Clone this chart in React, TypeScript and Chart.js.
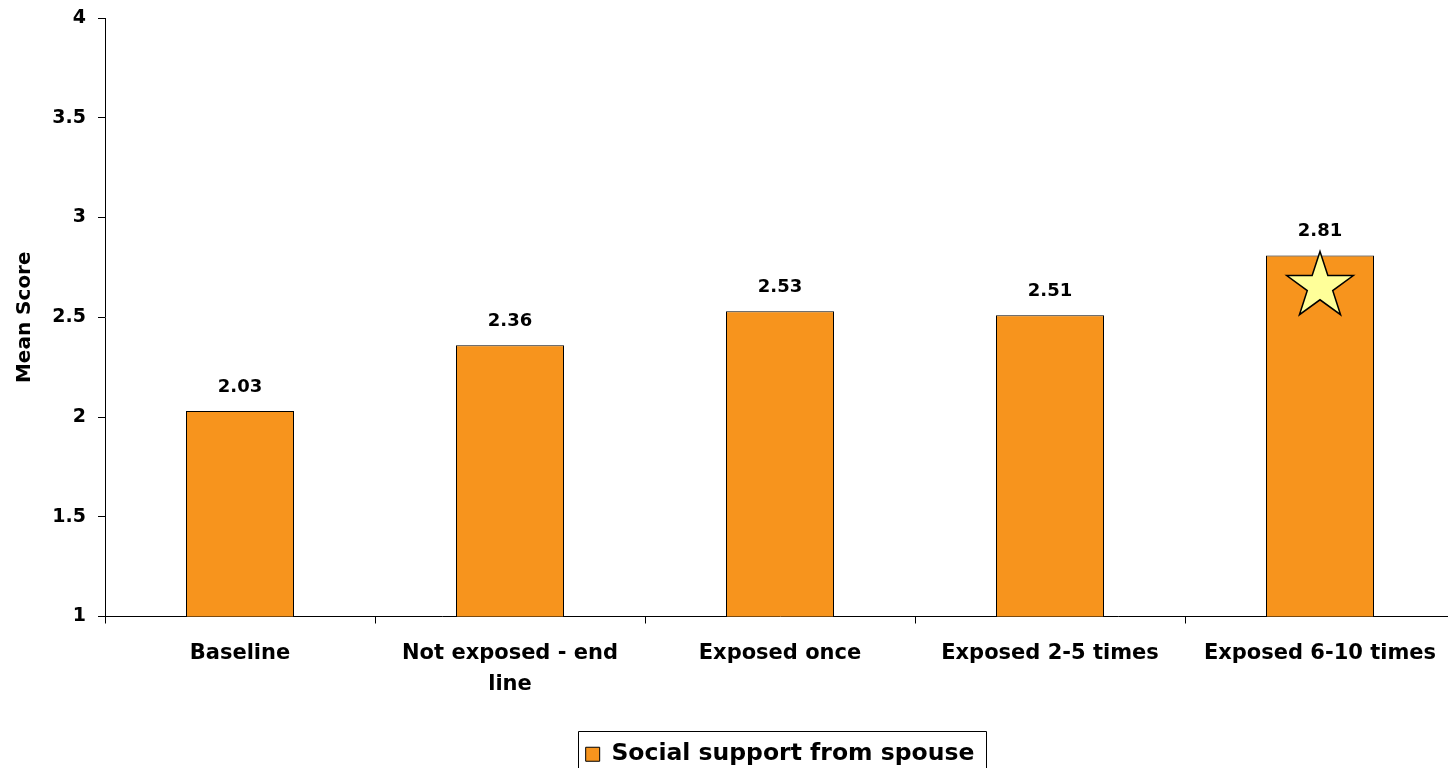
import React, { useEffect, useRef } from 'react';
import { Chart, registerables } from 'chart.js';

Chart.register(...registerables);

const categories: (string | string[])[] = [
  'Baseline',
  ['Not exposed - end', 'line'],
  'Exposed once',
  'Exposed 2-5 times',
  'Exposed 6-10 times',
];
const seriesName = 'Social support from spouse';
const values = [2.03, 2.36, 2.53, 2.51, 2.81];
const yMin = 1;
const yMax = 4;
const yStep = 0.5;
const yTitle = 'Mean Score';
const starredIndex = 4;

const FONT = '"DejaVu Sans", "Liberation Sans", Arial, sans-serif';
const BAR_COLOR = '#F7941D';

const valueLabelPlugin = {
  id: 'valueLabels',
  afterDatasetsDraw(chart: any) {
    const ctx = chart.ctx;
    const meta = chart.getDatasetMeta(0);
    ctx.save();
    ctx.font = `bold 18px ${FONT}`;
    ctx.fillStyle = '#000';
    ctx.textAlign = 'center';
    ctx.textBaseline = 'alphabetic';
    meta.data.forEach((el: any, i: number) => {
      ctx.fillText(values[i].toFixed(2), el.x, el.y - 19);
    });
    ctx.restore();
  },
};

const starPlugin = {
  id: 'starMark',
  afterDatasetsDraw(chart: any) {
    const meta = chart.getDatasetMeta(0);
    const el: any = meta.data[starredIndex];
    if (!el) return;
    const ctx = chart.ctx;
    const R = 35;
    const r = R * 0.382;
    const cx = el.x;
    const cy = el.y + 31;
    ctx.save();
    ctx.beginPath();
    for (let k = 0; k < 10; k++) {
      const rad = k % 2 === 0 ? R : r;
      const a = -Math.PI / 2 + (k * Math.PI) / 5;
      const px = cx + rad * Math.cos(a);
      const py = cy + rad * Math.sin(a);
      if (k === 0) ctx.moveTo(px, py);
      else ctx.lineTo(px, py);
    }
    ctx.closePath();
    ctx.fillStyle = '#FFFF99';
    ctx.fill();
    ctx.lineWidth = 1.5;
    ctx.strokeStyle = '#000';
    ctx.stroke();
    ctx.restore();
  },
};

const legendBorderPlugin = {
  id: 'legendBorder',
  afterDraw(chart: any) {
    const legend = chart.legend;
    if (!legend || !legend.legendHitBoxes || !legend.legendHitBoxes.length) return;
    const hb = legend.legendHitBoxes[0];
    const ctx = chart.ctx;
    const x0 = Math.round(hb.left - 8) + 0.5;
    const x1 = Math.round(hb.left + hb.width + 12) + 0.5;
    const y0 = Math.round(hb.top - 12) + 0.5;
    const y1 = chart.height + 5;
    ctx.save();
    ctx.strokeStyle = '#000';
    ctx.lineWidth = 1;
    ctx.beginPath();
    ctx.moveTo(x0, y1);
    ctx.lineTo(x0, y0);
    ctx.lineTo(x1, y0);
    ctx.lineTo(x1, y1);
    ctx.stroke();
    ctx.restore();
  },
};

export default function App() {
  const canvasRef = useRef<HTMLCanvasElement | null>(null);

  useEffect(() => {
    if (!canvasRef.current) return;
    Chart.defaults.font.family = FONT;
    const chart = new Chart(canvasRef.current, {
      type: 'bar',
      data: {
        labels: categories as any,
        datasets: [
          {
            label: seriesName,
            data: values,
            backgroundColor: BAR_COLOR,
            borderColor: '#000',
            borderWidth: 1,
            categoryPercentage: 1,
            barPercentage: 0.4,
          },
        ],
      },
      options: {
        responsive: false,
        animation: false,
        layout: { padding: { top: 18, right: 0, left: 0, bottom: -8 } },
        plugins: {
          tooltip: { enabled: false },
          legend: {
            display: true,
            position: 'bottom',
            fullSize: false,
            labels: {
              color: '#000',
              font: { size: 23.5, weight: 'bold', family: FONT },
              boxWidth: 14,
              boxHeight: 14,
              padding: 10,
            },
          },
        },
        scales: {
          x: {
            offset: true,
            grid: {
              display: true,
              offset: true,
              drawOnChartArea: false,
              drawTicks: true,
              tickLength: 7,
              color: '#000',
            },
            border: { display: true, color: '#000', width: 1 },
            ticks: {
              color: '#000',
              font: { size: 21, weight: 'bold', family: FONT, lineHeight: 1.45 },
              maxRotation: 0,
              minRotation: 0,
              autoSkip: false,
              padding: 15,
            },
            afterFit(scale: any) {
              scale.height = 116;
            },
          },
          y: {
            min: yMin,
            max: yMax,
            grid: {
              display: true,
              drawOnChartArea: false,
              drawTicks: true,
              tickLength: 7,
              color: '#000',
            },
            border: { display: true, color: '#000', width: 1 },
            ticks: {
              stepSize: yStep,
              color: '#000',
              font: { size: 19, weight: 'bold', family: FONT },
              padding: 12,
              callback: (v: any) => String(Number(v)),
            },
            title: {
              display: true,
              text: yTitle,
              color: '#000',
              font: { size: 20, weight: 'bold', family: FONT },
              padding: { top: 13, bottom: 0 },
            },
            afterFit(scale: any) {
              scale.width = 105;
              scale.paddingTop = 0;
              scale.paddingBottom = 0;
            },
          },
        },
      },
      plugins: [valueLabelPlugin, starPlugin, legendBorderPlugin],
    } as any);
    return () => chart.destroy();
  }, []);

  return (
    <div style={{ position: 'fixed', left: 0, top: 0, width: 1455, height: 768, background: '#fff' }}>
      <canvas ref={canvasRef} width={1455} height={768} style={{ width: 1455, height: 768, display: 'block' }} />
    </div>
  );
}
